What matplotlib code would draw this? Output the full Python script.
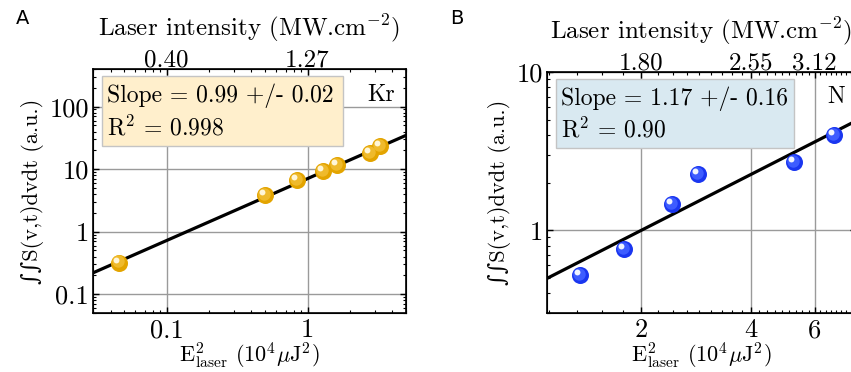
import numpy as np
import matplotlib
matplotlib.use("Agg")
import matplotlib.pyplot as plt
from matplotlib.ticker import FixedLocator, NullFormatter, LogLocator
from matplotlib.transforms import offset_copy
from matplotlib.patches import Rectangle

# panel A : Kr
kr_e2 = [0.046, 0.50, 0.84, 1.29, 1.63, 2.79, 3.28]
kr_signal = [0.32, 3.9, 6.6, 9.2, 11.5, 18.2, 23.2]
kr_fit_slope = 0.99
kr_fit_amp = 7.06
kr_text = ["Slope = 0.99 +/- 0.02", "R$^2$ = 0.998"]
kr_xticks = [0.1, 1]
kr_xticklabels = ["0.1", "1"]
kr_yticks = [0.1, 1, 10, 100]
kr_yticklabels = ["0.1", "1", "10", "100"]
kr_top_labels = ["0.40", "1.27"]

# panel B : N
n_e2 = [1.36, 1.79, 2.43, 2.87, 5.27, 6.80]
n_signal = [0.52, 0.76, 1.47, 2.26, 2.69, 4.0]
n_fit_slope = 1.17
n_fit_amp = 0.444
n_text = ["Slope = 1.17 +/- 0.16", "R$^2$ = 0.90"]
n_xticks = [2, 4, 6]
n_xticklabels = ["2", "4", "6"]
n_yticks = [1, 10]
n_yticklabels = ["1", "10"]
n_top_labels = ["1.80", "2.55", "3.12"]

plt.rcParams["font.family"] = "serif"
plt.rcParams["font.serif"] = ["cmr10"]
plt.rcParams["mathtext.fontset"] = "cm"
plt.rcParams["axes.formatter.use_mathtext"] = True

W, H = 851, 372
fig = plt.figure(figsize=(W / 100, H / 100), dpi=100)

def px_axes(l, t, r, b):
    return fig.add_axes([l / W, 1 - b / H, (r - l) / W, (b - t) / H])

def sphere(ax, x, y, base, mid, hi):
    ax.scatter(x, y, s=150, color=base, zorder=4, linewidths=0)
    tr = offset_copy(ax.transData, fig=fig, x=-1.2, y=1.2, units="dots")
    ax.scatter(x, y, s=80, color=mid, zorder=5, linewidths=0, transform=tr)
    tr2 = offset_copy(ax.transData, fig=fig, x=-3, y=3, units="dots")
    ax.scatter(x, y, s=18, color=hi, zorder=6, linewidths=0, transform=tr2)

def panel(ax, xlim, ylim, xs, ys, slope, amp, cols, txt, boxcol, tag,
          xt, xtl, yt, ytl, toplab, xminor=None):
    ax.set_xscale("log")
    ax.set_yscale("log")
    ax.set_xlim(xlim)
    ax.set_ylim(ylim)
    xf = np.logspace(np.log10(xlim[0]), np.log10(xlim[1]), 50)
    ax.plot(xf, amp * xf ** slope, color="black", lw=2.3, zorder=3)
    sphere(ax, xs, ys, *cols)
    ax.set_xticks(xt)
    ax.set_xticklabels(xtl)
    ax.set_yticks(yt)
    ax.set_yticklabels(ytl)
    ax.yaxis.set_minor_locator(LogLocator(subs=np.arange(2, 10)))
    ax.yaxis.set_minor_formatter(NullFormatter())
    if xminor is not None:
        ax.xaxis.set_minor_locator(FixedLocator(xminor))
    else:
        ax.xaxis.set_minor_locator(LogLocator(subs=np.arange(2, 10)))
    ax.xaxis.set_minor_formatter(NullFormatter())
    ax.grid(True, which="major", color="#9a9a9a", lw=1.0)
    ax.tick_params(which="both", direction="in", right=True, labelsize=19)
    ax.tick_params(axis="x", pad=4)
    ax.tick_params(axis="y", pad=3)
    ax.tick_params(which="major", length=4, width=1)
    ax.tick_params(which="minor", length=2.5, width=0.8)
    for s in ax.spines.values():
        s.set_linewidth(1.2)

    top = ax.twiny()
    top.set_xscale("log")
    top.set_xlim(xlim)
    top.set_xticks(xt)
    top.set_xticklabels(toplab)
    if xminor is not None:
        top.xaxis.set_minor_locator(FixedLocator(xminor))
    else:
        top.xaxis.set_minor_locator(LogLocator(subs=np.arange(2, 10)))
    top.xaxis.set_minor_formatter(NullFormatter())
    top.tick_params(which="both", direction="in", labelsize=18, pad=-1.5)
    top.tick_params(which="major", length=4, width=1)
    top.tick_params(which="minor", length=2.5, width=0.8)
    top.set_xlabel(r"Laser intensity (MW.cm$^{\mathsf{-2}}$)", fontsize=18, labelpad=10)

    ax.add_patch(Rectangle((0.028, 0.685), 0.77, 0.285, transform=ax.transAxes,
                           facecolor=boxcol, edgecolor="#c4c4c4", lw=1, zorder=7))
    ax.text(0.045, 0.89, txt[0], transform=ax.transAxes, fontsize=17,
            va="center", ha="left", zorder=8)
    ax.text(0.045, 0.76, txt[1], transform=ax.transAxes, fontsize=17,
            va="center", ha="left", zorder=8)
    ax.text(0.965, 0.895, tag, transform=ax.transAxes, fontsize=17,
            va="center", ha="right", zorder=8)

    ax.set_xlabel(r"E$^2_{\mathrm{laser}}$ (10$^4\mu$J$^2$)", fontsize=16, labelpad=-1)
    ax.set_ylabel("\u222b\u222bS(v,t)dvdt (a.u.)", fontsize=16, labelpad=4,
                  family=["cmr10", "DejaVu Serif"])

axA = px_axes(93, 69, 406, 313)
panel(axA, (0.03, 5), (0.05, 400), kr_e2, kr_signal, kr_fit_slope, kr_fit_amp,
      ("#e3a400", "#efba2c", "#fff6d8"), kr_text, "#ffefcc", "Kr",
      kr_xticks, kr_xticklabels, kr_yticks, kr_yticklabels, kr_top_labels)

axB = px_axes(547, 72, 856, 313)
b_minor = np.arange(1.1111, 7.8, 2 / 9)
panel(axB, (1.1, 7.8), (0.3, 10), n_e2, n_signal, n_fit_slope, n_fit_amp,
      ("#1a36f0", "#3d5cff", "#f0f4ff"), n_text, "#d9e9f1", "N",
      n_xticks, n_xticklabels, n_yticks, n_yticklabels, n_top_labels, b_minor)

fig.text(16 / W, 1 - 19 / H, "A", fontsize=14, family="DejaVu Sans", va="center")
fig.text(450 / W, 1 - 19 / H, "B", fontsize=14, family="DejaVu Sans", va="center")

fig.savefig("out.png", dpi=100)
